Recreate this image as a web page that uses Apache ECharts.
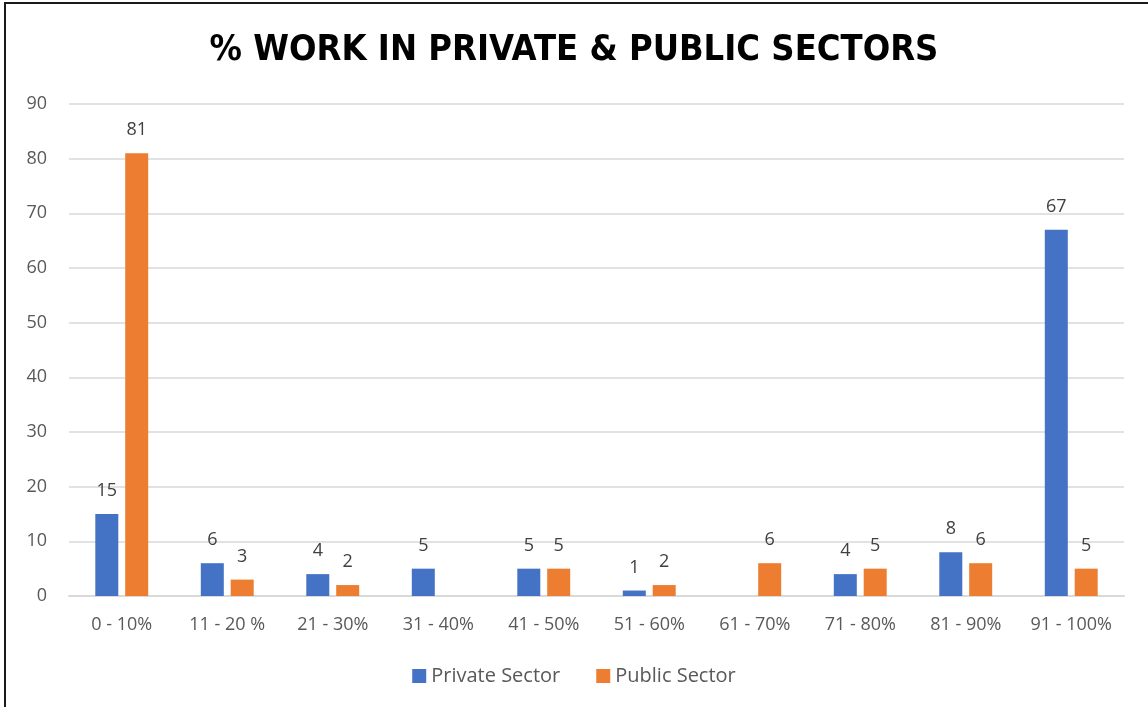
<!DOCTYPE html>
<html>
<head>
<meta charset="utf-8">
<script src="https://cdn.jsdelivr.net/npm/echarts@6/dist/echarts.min.js"></script>
<style>
  html, body { margin: 0; padding: 0; background: #fff; }
  #chart { width: 1148px; height: 707px; }
  #frame { position: absolute; left: 4px; top: 2px; width: 1160px; height: 720px;
           border-left: 2px solid #1a1a1a; border-top: 2px solid #1a1a1a; pointer-events: none; }
</style>
</head>
<body>
<div id="chart"></div>
<div id="frame"></div>
<script>
const categories = ['0 - 10%', '11 - 20 %', '21 - 30%', '31 - 40%', '41 - 50%', '51 - 60%', '61 - 70%', '71 - 80%', '81 - 90%', '91 - 100%'];
const privateSector = [15, 6, 4, 5, 5, 1, null, 4, 8, 67];
const publicSector = [81, 3, 2, null, 5, 2, 6, 5, 6, 5];
const yTicks = [0, 10, 20, 30, 40, 50, 60, 70, 80, 90];

const textFont = 'Open Sans';
const labelStyle = { show: true, position: 'top', distance: 14, color: '#404040', fontSize: 18, fontFamily: textFont };

const chart = echarts.init(document.getElementById('chart'), null, { renderer: 'canvas' });
chart.setOption({
  animation: false,
  title: {
    text: '% WORK IN PRIVATE & PUBLIC SECTORS',
    left: 'center', top: 28,
    textStyle: { fontFamily: "'DejaVu Sans Condensed', 'DejaVu Sans', sans-serif", fontWeight: 'bold', fontSize: 36, color: '#000' }
  },
  legend: {
    bottom: 16, left: 'center', itemWidth: 14, itemHeight: 14, itemGap: 36,
    icon: 'rect',
    textStyle: { fontFamily: textFont, fontSize: 20, color: '#595959' },
    data: ['Private Sector', 'Public Sector']
  },
  grid: { left: 69, right: 24, top: 104, bottom: 111, containLabel: false },
  xAxis: {
    type: 'category', data: categories,
    axisLine: { lineStyle: { color: '#d9d9d9', width: 2 } },
    axisTick: { show: false },
    axisLabel: { interval: 0, color: '#595959', fontFamily: textFont, fontSize: 18, margin: 20 }
  },
  yAxis: {
    type: 'value', min: yTicks[0], max: yTicks[yTicks.length - 1], interval: yTicks[1] - yTicks[0],
    axisLine: { show: false }, axisTick: { show: false },
    splitLine: { lineStyle: { color: '#d9d9d9', width: 1.5 } },
    axisLabel: { color: '#595959', fontFamily: textFont, fontSize: 18, margin: 22 }
  },
  series: [
    { name: 'Private Sector', type: 'bar', data: privateSector, barWidth: 23, barGap: '30%',
      itemStyle: { color: '#4472C4' }, label: labelStyle },
    { name: 'Public Sector', type: 'bar', data: publicSector, barWidth: 23, barGap: '30%',
      itemStyle: { color: '#ED7D31' }, label: labelStyle }
  ]
});
</script>
</body>
</html>
